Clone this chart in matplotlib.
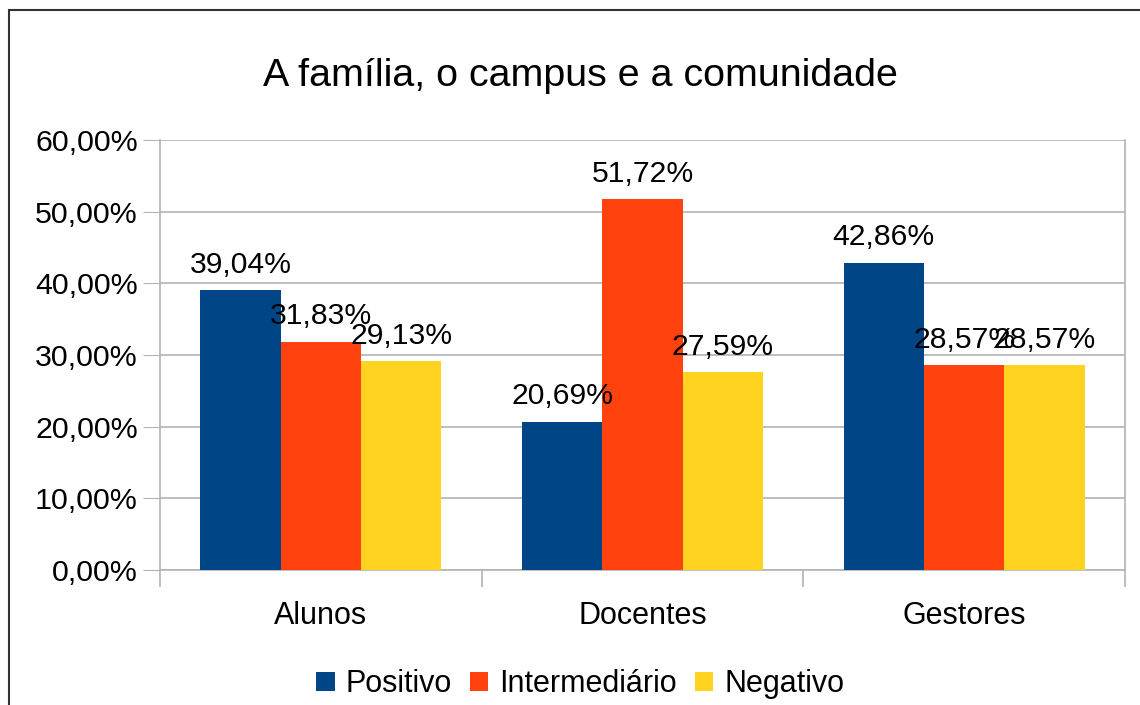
import matplotlib

matplotlib.use("Agg")
import matplotlib.pyplot as plt
import numpy as np
from matplotlib.patches import Rectangle
from matplotlib.ticker import FuncFormatter, FixedLocator

plt.rcParams["font.family"] = ["Liberation Sans", "DejaVu Sans"]

categories = ["Alunos", "Docentes", "Gestores"]
series = ["Positivo", "Intermediário", "Negativo"]
positivo = [39.04, 20.69, 42.86]
intermediario = [31.83, 51.72, 28.57]
negativo = [29.13, 27.59, 28.57]
colors = ["#004586", "#ff420e", "#ffd320"]

W, H = 1140, 705
fig = plt.figure(figsize=(W / 100, H / 100), dpi=100)
ax = fig.add_axes([160 / W, 1 - 570 / H, (1125 - 160) / W, (570 - 140) / H])

# chart frame (cut off at right/bottom like the original)
fig.patches.append(Rectangle((9 / W, -0.1), 1.2, 1 - 10 / H + 0.1, transform=fig.transFigure,
                             fill=False, edgecolor="#333333", linewidth=1.5))

x = np.arange(len(categories))
w = 0.25
for i, (vals, name) in enumerate(zip([positivo, intermediario, negativo], series)):
    bars = ax.bar(x + (i - 1) * w, vals, w, color=colors[i], label=name, zorder=3)
    for b, v in zip(bars, vals):
        ax.text(b.get_x() + b.get_width() / 2, v + 1.6, f"{v:.2f}%".replace(".", ","),
                ha="center", va="bottom", fontsize=21.7, zorder=4)

ax.set_xlim(-0.5, 2.5)
ax.set_ylim(0, 60)
ax.set_yticks(np.arange(0, 61, 10))
ax.yaxis.set_major_formatter(FuncFormatter(lambda v, _: f"{v:.2f}%".replace(".", ",")))
ax.tick_params(axis="y", labelsize=21.9, length=12, color="#b3b3b3", pad=4)
ax.grid(axis="y", color="#b3b3b3", linewidth=1.2, zorder=0)

ax.set_xticks(x)
ax.set_xticklabels(categories)
ax.tick_params(axis="x", which="major", length=0, labelsize=22, pad=22)
ax.xaxis.set_minor_locator(FixedLocator([-0.5, 0.5, 1.5, 2.5]))
ax.tick_params(axis="x", which="minor", length=12, color="#b3b3b3", width=1.2)

for s in ["left", "right", "bottom"]:
    ax.spines[s].set_color("#b3b3b3")
    ax.spines[s].set_linewidth(1.2)
ax.spines["top"].set_visible(False)

fig.text(0.509, 1 - 76 / H, "A família, o campus e a comunidade", ha="center", va="center", fontsize=28.4)

fig.legend(loc="center", bbox_to_anchor=(0.509, 1 - 684 / H), ncol=3, frameon=False,
           fontsize=22, handlelength=0.6, handleheight=0.6, handletextpad=0.35, columnspacing=0.6)

fig.savefig("out.png", dpi=100)
